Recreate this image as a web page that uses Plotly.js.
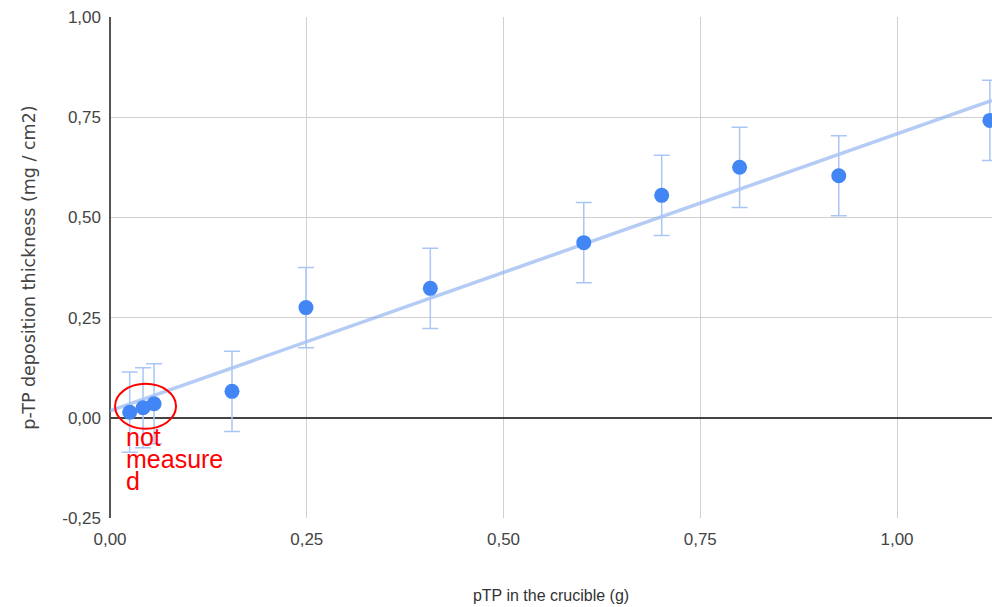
<!DOCTYPE html>
<html>
<head>
<meta charset="utf-8">
<script src="https://cdn.plot.ly/plotly-3.0.1.min.js"></script>
<style>html,body{margin:0;padding:0;background:#fff;}#chart{width:992px;height:607px;}</style>
</head>
<body>
<div id="chart"></div>
<script>
// Data
const ptpMass = [0.025, 0.042, 0.056, 0.155, 0.249, 0.407, 0.602, 0.701, 0.800, 0.926, 1.118];
const thickness = [0.014, 0.025, 0.035, 0.066, 0.275, 0.323, 0.437, 0.555, 0.625, 0.604, 0.742];
const thicknessError = [0.1, 0.1, 0.1, 0.1, 0.1, 0.1, 0.1, 0.1, 0.1, 0.1, 0.1];
const xTicks = [0, 0.25, 0.5, 0.75, 1.0];
const xTickLabels = ["0,00", "0,25", "0,50", "0,75", "1,00"];
const yTicks = [-0.25, 0, 0.25, 0.5, 0.75, 1.0];
const yTickLabels = ["-0,25", "0,00", "0,25", "0,50", "0,75", "1,00"];
const noteLines = ["not", "measure", "d"];

// Linear trendline (least squares) computed from the data
const n = ptpMass.length;
const mx = ptpMass.reduce((a, b) => a + b, 0) / n;
const my = thickness.reduce((a, b) => a + b, 0) / n;
let sxy = 0, sxx = 0;
for (let i = 0; i < n; i++) {
  sxy += (ptpMass[i] - mx) * (thickness[i] - my);
  sxx += (ptpMass[i] - mx) ** 2;
}
const slope = sxy / sxx;
const intercept = my - slope * mx;
const xRange = [0, 1.1207];
const trendX = [xRange[0], xRange[1]];
const trendY = trendX.map(x => intercept + slope * x);

const FONT = "'Liberation Sans', Arial, sans-serif";

const traces = [
  {
    x: trendX, y: trendY, type: 'scatter', mode: 'lines',
    line: {color: 'rgba(140,176,240,0.65)', width: 3.5},
    hoverinfo: 'skip', showlegend: false
  },
  {
    x: ptpMass, y: thickness, type: 'scatter', mode: 'markers',
    marker: {color: '#4285f4', size: 15},
    error_y: {type: 'data', array: thicknessError, visible: true, color: '#a9c6f5', thickness: 1.5, width: 8},
    showlegend: false
  }
];

const yMid = [-0.047, -0.102, -0.157];
const annotations = noteLines.map((t, i) => ({
  text: t, xref: 'x', yref: 'y', x: 0.018, y: yMid[i],
  xanchor: 'left', yanchor: 'middle', showarrow: false,
  font: {family: FONT, size: 25, color: '#ff0000'}
}));

const layout = {
  width: 992, height: 607,
  margin: {l: 110, r: 0, t: 17, b: 89},
  paper_bgcolor: '#ffffff', plot_bgcolor: '#ffffff',
  showlegend: false,
  font: {family: FONT, color: '#444'},
  xaxis: {
    range: xRange, tickmode: 'array', tickvals: xTicks, ticktext: xTickLabels,
    showgrid: true, gridcolor: '#d0d0d0', gridwidth: 1,
    zeroline: true, zerolinecolor: '#555', zerolinewidth: 2,
    showline: false, ticks: '', ticklabelstandoff: 9,
    tickfont: {family: FONT, size: 17, color: '#444'},
    title: {text: 'pTP in the crucible (g)', font: {family: FONT, size: 16, color: '#333'}, standoff: 41},
    automargin: false, fixedrange: true
  },
  yaxis: {
    range: [-0.25, 1.0], tickmode: 'array', tickvals: yTicks, ticktext: yTickLabels,
    showgrid: true, gridcolor: '#d0d0d0', gridwidth: 1,
    zeroline: true, zerolinecolor: '#444', zerolinewidth: 2,
    showline: false, ticks: '', ticklabelstandoff: 8,
    tickfont: {family: FONT, size: 17, color: '#444'},
    title: {text: 'p-TP deposition thickness (mg / cm2)', font: {family: "'DejaVu Sans', sans-serif", size: 17.5, color: '#444'}, standoff: 22},
    automargin: false, fixedrange: true
  },
  shapes: [{
    type: 'circle', xref: 'x', yref: 'y',
    x0: 0.0064, x1: 0.0839, y0: -0.0274, y1: 0.0848,
    line: {color: '#ff0000', width: 2}, fillcolor: 'rgba(0,0,0,0)'
  }],
  annotations: annotations
};

Plotly.newPlot('chart', traces, layout, {displayModeBar: false, staticPlot: true});
</script>
</body>
</html>
